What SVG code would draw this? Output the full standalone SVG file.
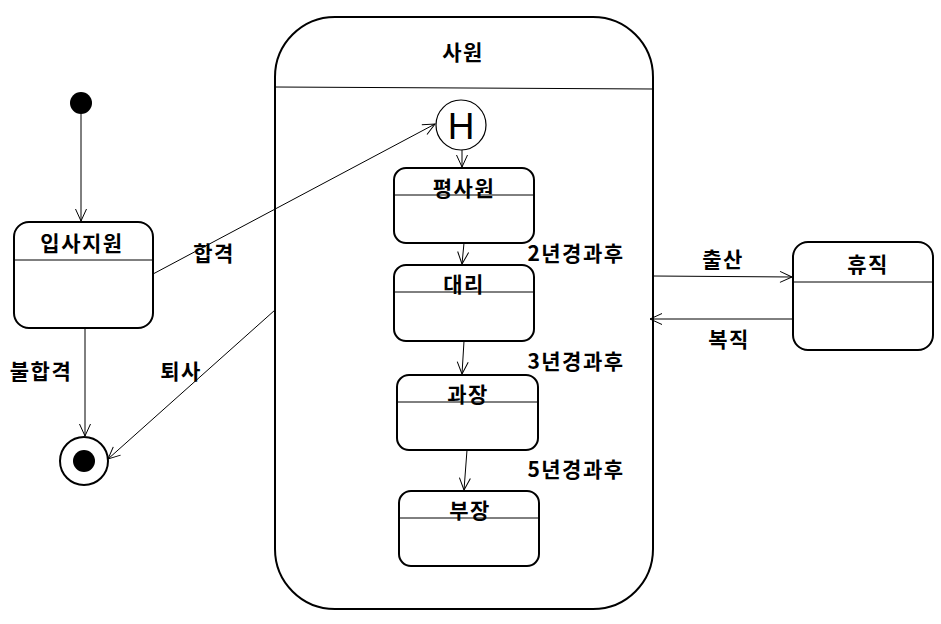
<svg xmlns="http://www.w3.org/2000/svg" width="941" height="624" viewBox="0 0 941 624">
<style>
.st{fill:#fff;stroke:#000;stroke-width:2}
.dv{stroke:#000;stroke-width:1}
.lb{font-family:"Noto Sans CJK KR","Noto Sans",sans-serif;font-weight:bold;font-size:21px;letter-spacing:1.5px;text-anchor:middle;dominant-baseline:central;fill:#000}
.cn{fill:none;stroke:#000;stroke-width:1;marker-end:url(#ar)}
</style>
<defs>
<marker id="ar" markerUnits="userSpaceOnUse" markerWidth="16" markerHeight="14" refX="13" refY="6.5" orient="auto">
<path d="M1,1 L13,6.5 L1,12" fill="none" stroke="#000" stroke-width="1"/>
</marker>
</defs>
<rect width="941" height="624" fill="#fff"/>
<g id="initial"><circle cx="81" cy="103" r="11" fill="#000"/></g>
<g id="final"><circle cx="84" cy="461" r="24" fill="#fff" stroke="#000" stroke-width="2"/><circle cx="84" cy="461" r="11" fill="#000"/></g>
<g id="apply"><rect class="st" x="14" y="222" width="139" height="106" rx="15"/><line class="dv" x1="14" y1="260" x2="153" y2="260"/><text class="lb" x="82" y="242">입사지원</text></g>
<g id="employee"><rect class="st" x="275" y="17" width="378" height="592" rx="60"/><line class="dv" x1="275" y1="87" x2="653" y2="89"/><text class="lb" x="463" y="51">사원</text></g>
<g id="history"><circle cx="461" cy="125" r="25" fill="#fff" stroke="#000" stroke-width="1.2"/><text x="461" y="126" font-family="'Liberation Sans',sans-serif" font-size="37" text-anchor="middle" dominant-baseline="central">H</text></g>
<g id="staff"><rect class="st" x="394" y="168" width="140" height="75" rx="12"/><line class="dv" x1="394" y1="195" x2="534" y2="195"/><text class="lb" x="464" y="187">평사원</text></g>
<g id="assistant"><rect class="st" x="394" y="265" width="140" height="76" rx="12"/><line class="dv" x1="394" y1="292" x2="534" y2="292"/><text class="lb" x="464" y="283">대리</text></g>
<g id="manager"><rect class="st" x="397" y="375" width="141" height="75" rx="12"/><line class="dv" x1="397" y1="402" x2="538" y2="402"/><text class="lb" x="468" y="393">과장</text></g>
<g id="director"><rect class="st" x="399" y="491" width="140" height="75" rx="12"/><line class="dv" x1="399" y1="518" x2="539" y2="518"/><text class="lb" x="470" y="509">부장</text></g>
<g id="leave"><rect class="st" x="793" y="242" width="140" height="108" rx="15"/><line class="dv" x1="793" y1="282" x2="933" y2="282"/><text class="lb" x="868" y="263">휴직</text></g>
<g id="connectors">
<line class="cn" x1="81" y1="114" x2="81" y2="221"/>
<line class="cn" x1="85" y1="328" x2="85" y2="436"/>
<line class="cn" x1="153" y1="274" x2="435" y2="124"/>
<line class="cn" x1="275" y1="310" x2="108" y2="459"/>
<line class="cn" x1="462" y1="150" x2="462" y2="167"/>
<line class="cn" x1="464" y1="243" x2="462" y2="264"/>
<line class="cn" x1="464" y1="341" x2="462" y2="374"/>
<line class="cn" x1="467" y1="450" x2="464" y2="490"/>
<line class="cn" x1="653" y1="276" x2="792" y2="277"/>
<line class="cn" x1="793" y1="319" x2="650" y2="319"/>
<text class="lb" x="214" y="252">합격</text>
<text class="lb" x="41" y="370">불합격</text>
<text class="lb" x="181" y="370">퇴사</text>
<text class="lb" x="576" y="252">2년경과후</text>
<text class="lb" x="576" y="360">3년경과후</text>
<text class="lb" x="576" y="468">5년경과후</text>
<text class="lb" x="723" y="258">출산</text>
<text class="lb" x="729" y="338">복직</text>
</g>
</svg>
